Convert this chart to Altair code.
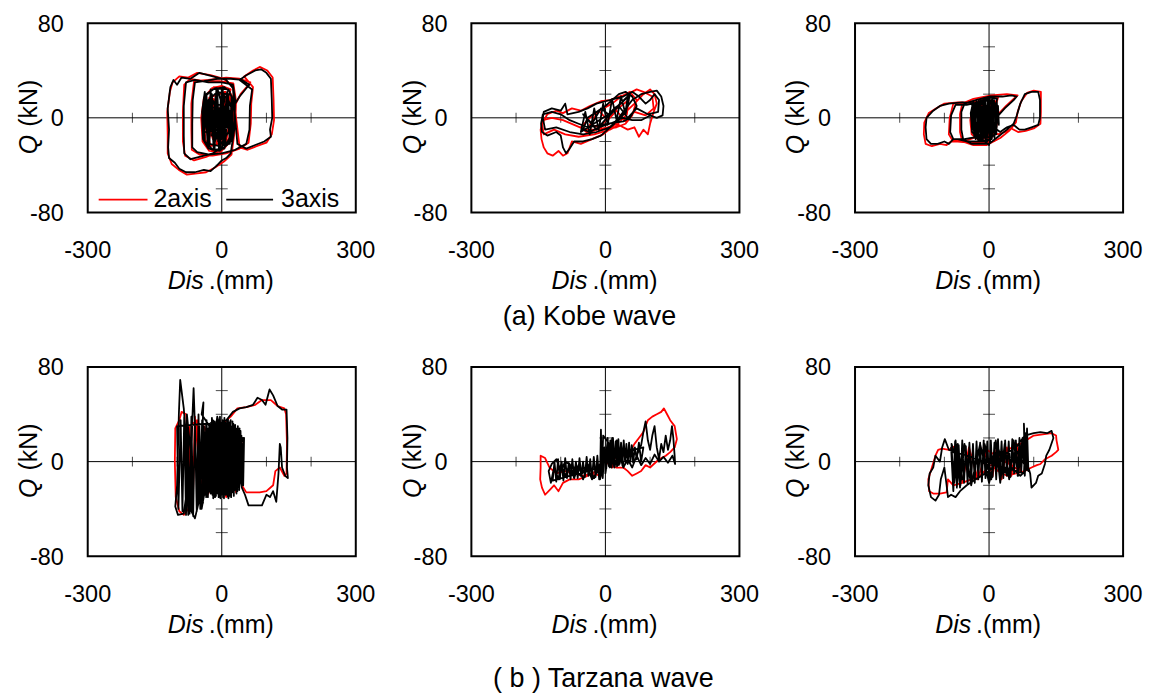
import altair as alt
import pandas as pd

# ---------------------------------------------------------------- data
SERIES = ["2axis", "3axis"]
SERIES_COLORS = ["#ff0000", "#000000"]
X_LABELS = [-300, 0, 300]
Y_LABELS = [-80, 0, 80]
X_MINOR = [-200, -100, 100, 200]
Y_MINOR = [-60, -40, -20, 20, 40, 60]
CAPTIONS = ["(a) Kobe wave", "( b ) Tarzana wave"]

# Kobe wave, panel 1  (Dis mm, Q kN)
KOBE1_2AXIS = [(0,0),(12,14),(20,24),(0,27),(-22,25),(-40,17),(-46,0),(-43,-20),(-28,-28),(-3,-29),(17,-21),(26,-3),(27,16),(13,25),(-18,26),(-37,18),(-42,0),(-39,-22),(-18,-28),(8,-25),(22,-12),(24,10),(8,22),(-28,17),(-35,-8),(-25,-24),(10,-20),(20,3),
    (42,20),(58,27),(64,30),(40,33),(10,34),(-30,32),(-62,31),(-68,12),(-68,-10),(-67,-27),(-50,-31),(-20,-32),(10,-30),(40,-26),(60,-21),(65,-5),(66,12),
    (70,26),(50,35),(70,40),(85,43),(102,40),(114,34),(116,15),(117,-2),(112,-14),(100,-21),(78,-24),(58,-27),(40,-25),
    (32,0),(27,26),(5,33),(-25,36),(-55,38),(-75,34),(-95,35),(-110,30),(-116,22),(-122,5),(-121,-15),(-121,-30),(-112,-39),(-96,-44),(-78,-48),(-55,-47),(-35,-46),(-15,-42),(5,-37),(22,-31),
    (30,-8),(32,14),(26,29),(-5,31),(-40,31),(-70,33),(-84,28),(-87,5),(-87,-20),(-82,-32),(-62,-36),(-35,-33),(-10,-29),
    (8,-14),(-18,16),(-24,-12),(10,16),(-12,-22),(14,4),(-28,12),(3,-16),(6,22),(-20,-18),(-42,10),(-36,-22),(20,18),(24,-15),(0,0)]
KOBE1_3AXIS = [(0,0),(10,12),(18,22),(5,26),(-20,24),(-38,18),(-44,0),(-42,-18),(-30,-26),(-5,-28),(15,-22),(24,-5),(25,15),(15,24),(-15,25),(-35,20),(-40,2),(-38,-20),(-20,-27),(5,-26),(20,-15),(22,8),(10,20),(-10,22),(-30,15),(-33,-5),(-28,-22),(-5,-24),(15,-12),(18,5),
    (40,18),(55,25),(62,28),(45,32),(20,33),(-10,33),(-40,31),(-60,30),(-65,15),(-66,-5),(-66,-25),(-55,-29),(-30,-31),(0,-30),(30,-27),(55,-22),(62,-10),(63,10),
    (68,24),(40,32),(55,36),(75,40),(88,41),(100,38),(110,33),(112,15),(113,0),(108,-10),(110,-16),(95,-20),(75,-23),(55,-26),(45,-24),(35,-22),
    (30,0),(25,25),(10,32),(-20,35),(-50,38),(-70,33),(-90,34),(-100,28),(-108,32),(-115,26),(-117,20),(-121,8),(-118,-10),(-120,-25),(-118,-34),(-105,-38),(-95,-43),(-80,-46),(-60,-46),(-40,-44),(-25,-45),(-10,-40),(0,-36),(10,-34),(20,-30),
    (28,-10),(30,15),(25,28),(0,30),(-30,30),(-60,32),(-80,30),(-85,10),(-85,-15),(-84,-30),(-70,-35),(-50,-33),(-20,-30),(0,-25),
    (10,-15),(-20,15),(-25,-10),(8,18),(-15,-20),(12,5),(-30,10),(0,-18),(5,20),(-22,-15),(-10,25),(15,-8),(-35,-12),(2,10),
    (-40,15),(-30,-25),(-25,24),(-18,-27),(-12,25),(-6,-28),(0,24),(6,-26),(12,22),(18,-22),(22,18),(25,-10),(20,-20),(14,20),(8,-24),(2,26),(-4,-27),(-10,22),(-16,-26),(-22,20),(-28,-24),(-34,18),(-40,-18),(-44,5),(-38,22),(-32,-20),(-26,15),(-20,-15),(-14,18),(-8,-20),(-2,16),(4,-18),(10,14),(16,-12),(10,10),(0,0)]

# Kobe wave, panel 2
KOBE2_2AXIS = [(0,0),(18,6),(35,10),(52,15),(48,3),(28,-5),(5,-8),(-20,-10),(-40,-13),(-55,-8),(-30,2),(-5,8),(15,12),(35,18),(55,22),(70,15),(60,2),(45,-5),(25,-8),
    (-10,-10),(-45,-10),(-70,-6),(-95,-2),(-120,0),(-140,-2),(-145,-10),(-143,-18),(-138,-25),(-130,-30),(-118,-32),(-105,-28),(-95,-32),(-85,-30),(-75,-20),(-55,-22),(-30,-18),(-5,-14),(15,-8),
    (40,3),(65,12),(85,20),(100,24),(110,20),(115,12),(108,5),(100,-5),(95,-14),(85,-10),(75,-16),(65,-8),(50,-10),(30,-6),(10,-10),
    (-25,-14),(-60,-16),(-90,-14),(-115,-10),(-138,-14),(-142,-5),(-130,3),(-110,6),(-95,4),(-75,8),(-55,6),(-35,10),(-10,14),(10,15),(30,18),(50,20),(70,24),(85,22),(105,18),(108,8),(90,2),
    (65,5),(45,-3),(25,6),(5,-2),(-15,6),(-35,-6),(-10,-8),(10,4),(0,0)]
KOBE2_3AXIS = [(0,0),(20,8),(35,12),(50,18),(45,5),(30,-2),(10,-5),(-15,-8),(-35,-12),(-50,-10),(-40,0),(-20,5),(0,10),(15,15),(30,20),(45,22),(60,18),(70,10),(55,0),(40,-3),(20,-4),
    (-10,-6),(-40,-8),(-60,-5),(-80,-2),(-100,3),(-120,5),(-140,3),(-144,-5),(-142,-12),(-130,-15),(-110,-12),(-100,-15),(-95,-25),(-88,-30),(-80,-26),(-70,-20),(-50,-20),(-30,-18),(-10,-15),(5,-10),(20,-5),
    (40,5),(60,15),(80,20),(100,22),(115,23),(125,18),(130,10),(128,2),(115,0),(100,2),(80,-2),(60,-2),(40,0),(25,-2),(10,-8),
    (-20,-12),(-50,-14),(-80,-12),(-110,-8),(-135,-10),(-140,0),(-138,5),(-120,8),(-100,6),(-90,12),(-85,3),(-60,5),(-40,8),(-20,12),(0,14),(20,16),(40,18),(60,22),(75,18),(90,12),(100,15),(110,20),(120,15),(118,5),(95,3),
    (70,8),(50,0),(30,10),(10,2),(-10,8),(-30,-5),(-50,3),(-20,-10),(15,5),
    (-55,-12),(-45,5),(-35,-14),(-25,8),(-15,-10),(-5,12),(5,-6),(15,16),(25,-2),(35,18),(45,3),(55,20),(0,0)]

# Kobe wave, panel 3
KOBE3_2AXIS = [(0,0),(16,12),(20,17),(-2,18),(-22,15),(-37,9),(-42,-2),(-39,-14),(-22,-19),(-2,-21),(14,-12),(20,0),(14,14),(-12,16),(-34,6),(-33,-10),(-15,-18),(8,-15),(18,2),
    (38,10),(58,17),(64,19),(40,20),(5,19),(-35,16),(-60,12),(-65,3),(-65,-12),(-60,-20),(-35,-23),(-5,-23),(25,-17),(45,-11),(60,-4),(64,5),
    (72,14),(85,21),(100,23),(116,22),(116,5),(115,-5),(100,-9),(82,-11),(65,-12),(50,-9),(35,-12),(20,-14),
    (5,-10),(-15,10),(-40,13),(-70,13),(-100,12),(-118,8),(-135,4),(-145,-4),(-146,-14),(-142,-22),(-128,-24),(-110,-22),(-95,-23),(-85,-20),(-70,-20),(-45,-21),(-20,-21),(0,-21),
    (-8,8),(-30,14),(-58,12),(-80,12),(-88,0),(-90,-14),(-82,-19),(-50,-19),(-20,-15),(8,6),(-18,-12),(10,14),(-28,-8),(0,0)]
KOBE3_3AXIS = [(0,0),(15,10),(18,16),(0,17),(-20,14),(-35,10),(-40,0),(-38,-12),(-25,-18),(-5,-20),(12,-14),(18,-2),(15,12),(-10,15),(-32,8),(-36,-8),(-20,-17),(5,-16),(16,0),
    (35,8),(55,15),(62,18),(50,19),(30,18),(0,18),(-30,15),(-55,12),(-62,5),(-62,-10),(-58,-18),(-40,-22),(-20,-22),(0,-22),(20,-16),(40,-10),(55,-5),(62,2),
    (70,12),(80,20),(95,22),(110,22),(114,15),(114,0),(110,-6),(95,-8),(80,-10),(68,-10),(55,-6),(40,-8),(25,-12),
    (10,-8),(-10,8),(-30,12),(-60,13),(-90,12),(-110,10),(-125,6),(-140,0),(-142,-8),(-140,-18),(-130,-22),(-115,-22),(-100,-20),(-90,-22),(-80,-18),(-70,-18),(-50,-20),(-30,-20),(-10,-20),(0,-23),(5,-15),
    (-5,10),(-25,13),(-50,11),(-75,11),(-85,2),(-87,-12),(-80,-18),(-55,-18),(-25,-16),(-5,-10),(10,8),(-15,-14),(12,12),(-30,-10),(5,15),(-20,-18),(15,-5),(-35,5),
    (-38,12),(-33,-16),(-28,15),(-24,-19),(-19,16),(-14,-20),(-9,17),(-4,-20),(1,16),(6,-18),(11,15),(16,-14),(20,10),(22,-6),(17,14),(12,-17),(7,17),(2,-20),(-3,16),(-8,-19),(-13,15),(-18,-18),(-23,14),(-28,-15),(-33,12),(-38,-10),(-41,4),(-35,14),(-30,-18),(-20,13),(-10,-16),(0,14),(10,-12),(0,0)]

# Tarzana wave, panel 1
TARZ1_2AXIS = [(0,0),(12,22),(-12,28),(-28,-22),(25,18),(32,-26),(-5,35),(-32,-28),(38,25),(10,-30),(-28,22),(44,-12),(-8,-25),(22,28),(-36,8),(46,18),(2,-24),(-18,32),(28,-18),
    (-40,30),(-45,-30),(-60,38),(-65,-38),(-80,40),(-90,42),(-95,35),(-104,28),(-105,0),(-103,-30),(-95,-42),(-85,-45),(-75,-40),(-70,-25),(-72,30),(-55,35),(-50,-30),
    (-20,30),(5,33),(20,38),(35,45),(55,46),(75,48),(90,52),(110,52),(125,47),(140,45),(144,40),(146,15),(145,-10),(140,-12),(130,-5),(120,-8),(115,-20),(100,-25),(85,-26),(70,-26),(55,-26),(45,-20),(42,0),(45,15),(40,-15),
    (20,20),(-15,-20),(15,25),(-25,0),(0,0)]
TARZ1_3AXIS = [(0,0),(10,25),(20,35),(5,-20),(-15,30),(-25,-25),(30,20),(35,-25),(-10,38),(-35,-30),(40,28),(15,-31),(-30,25),(45,-15),(-5,-28),(25,30),(-38,10),(48,20),(0,-25),(-20,35),(30,-20),(-40,-15),(10,32),(42,-10),
    (-45,40),(-41,50),(-45,5),(-55,-35),(-60,30),(-63,62),(-66,35),(-70,-40),(-75,-45),(-80,20),(-85,45),(-93,69),(-96,40),(-100,-20),(-104,-38),(-98,-45),(-85,-44),(-80,-30),(-78,40),(-70,10),(-68,-42),(-60,-48),(-52,-35),(-50,30),(-45,-40),(-38,-25),(-35,32),
    (-100,30),(-97,-40),(-92,35),(-88,-42),(-84,38),(-80,-45),(-76,30),(-72,-44),(-68,38),(-64,-46),(-60,35),(-56,-42),(-52,40),(-48,-40),(-44,35),(-42,-35),
    (-40,30),(-37,-28),(-34,35),(-31,-30),(-28,32),(-25,-27),(-22,37),(-19,-31),(-16,34),(-13,-29),(-10,36),(-7,-30),(-4,38),(-1,-28),(2,35),(5,-31),(8,33),(11,-27),(14,36),(17,-29),(20,30),(23,-26),(26,32),(29,-24),(32,28),(35,-22),(38,25),(41,-18),(44,22),(47,-10),(48,15),(45,-20),(42,26),(39,-24),(36,30),(33,-27),(30,31),(27,-29),(24,34),(21,-30),(18,32),(15,-31),(12,35),(9,-28),(6,37),(3,-30),(0,33),(-3,-31),(-6,35),(-9,-27),(-12,32),(-15,-30),(-18,30),(-21,-28),(-24,33),(-27,-25),(-30,28),(-33,-24),(-36,25),(-39,-20),
    (-10,30),(10,35),(25,42),(40,45),(55,46),(70,48),(80,54),(90,52),(98,48),(107,61),(115,56),(125,47),(135,44),(145,44),(147,20),(146,-5),(148,-14),(142,-12),(135,-5),(132,12),(130,15),(127,-10),(122,-34),(115,-25),(108,-30),(100,-28),(90,-37),(75,-37),(60,-37),(52,-28),(45,-22),(40,-10),(45,0),(50,20),(48,-20),
    (30,10),(-10,-25),(20,25),(-30,5),(0,0)]

# Tarzana wave, panel 2
TARZ2_2AXIS = [(0,0),(8,15),(15,-5),(25,12),(35,0),(-5,10),(-10,-12),
    (-30,-10),(-50,-12),(-70,-10),(-90,-8),(-110,-10),(-125,-5),(-135,3),(-145,5),(-145,-5),(-146,-15),(-142,-22),(-135,-28),(-125,-24),(-115,-20),(-105,-25),(-95,-18),(-80,-15),(-60,-15),(-40,-12),(-20,-8),
    (0,5),(20,8),(40,5),(55,8),(65,15),(75,20),(85,25),(95,35),(105,38),(115,40),(125,42),(131,45),(138,40),(145,35),(155,30),(160,19),(155,12),(145,8),(135,5),(120,2),(100,-5),(90,-3),(80,-8),(70,-10),(60,-12),(50,-8),(40,-5),(25,-5),(10,-3),(0,0)]
TARZ2_3AXIS = [(0,0),(5,18),(10,-5),(15,20),(20,0),(25,18),(30,-3),(35,15),(40,-2),(-5,22),(-8,-10),(-10,27),(-12,-15),(0,10),
    (-20,-10),(-30,-15),(-40,-5),(-50,-15),(-60,-3),(-70,-14),(-80,-2),(-90,-12),(-100,-3),(-105,-15),(-115,-5),(-122,-18),(-127,-8),(-120,-2),(-110,2),(-100,-8),(-90,0),(-70,-5),(-55,-12),(-40,-2),(-25,-14),(-15,-5),
    (-118,-16),(-114,0),(-110,-17),(-106,2),(-102,-15),(-98,0),(-94,-16),(-90,3),(-86,-14),(-82,-1),(-78,-15),(-74,2),(-70,-13),(-66,0),(-62,-14),(-58,3),(-54,-12),(-50,0),(-46,-13),(-42,4),(-38,-12),(-34,2),(-30,-14),(-26,4),(-22,-13),(-18,5),(-14,-15),(-10,6),(-6,-14),(-2,12),
    (2,-6),(5,20),(8,-4),(11,18),(14,-5),(17,20),(20,-3),(23,17),(26,-4),(29,19),(32,-2),(35,16),(38,-3),(41,18),(44,0),(47,15),(50,-2),(53,16),(56,0),(59,14),(62,-1),(66,12),(70,2),(75,16),(80,0),(85,12),
    (10,5),(30,10),(50,3),(60,12),(70,5),(80,14),(85,25),(90,34),(95,18),(100,10),(105,22),(110,30),(115,12),(120,2),(125,15),(130,8),(135,22),(140,10),(145,18),(149,30),(152,20),(155,5),(156,-2),(150,5),(140,-1),(130,4),(120,0),(110,6),(100,-2),(90,3),(80,-3),(70,5),(60,-5),(50,2),(40,-5),(30,8),(20,-5),(10,15),(0,-10),(0,0)]

# Tarzana wave, panel 3
TARZ3_2AXIS = [(0,0),(-12,12),(8,-12),(18,15),(28,-15),(40,12),(50,-12),(62,15),(70,-8),(-5,10),(-25,-15),(-45,12),(-60,-18),(-72,14),
    (-90,10),(-105,11),(-114,10),(-120,5),(-128,-5),(-136,-15),(-134,-25),(-125,-27),(-110,-27),(-95,-26),(-92,-15),(-80,-20),(-60,-18),(-40,-15),(-20,-12),
    (10,0),(40,10),(70,15),(100,22),(120,23),(140,24),(150,22),(151,18),(155,10),(150,8),(140,5),(125,2),(115,-2),(107,-3),(95,-5),(80,-8),(60,-10),(40,-12),(20,-8),(0,0)]
TARZ3_3AXIS = [(0,0),(-10,15),(5,-15),(15,18),(25,-18),(35,15),(45,-15),(55,18),(65,-12),(75,20),(80,-10),(78,32),(82,-5),(85,28),(88,-8),
    (60,10),(40,-12),(20,12),(0,-18),(-20,15),(-40,-20),(-55,15),(-65,-22),(-75,18),(-80,-25),(-85,12),(-78,-18),(-70,15),(-60,-15),
    (-84,15),(-80,-20),(-76,17),(-72,-22),(-68,14),(-64,-20),(-60,18),(-56,-18),(-52,13),(-48,-19),(-44,16),(-40,-16),(-36,15),(-32,-18),(-28,17),(-24,-15),(-20,16),(-16,-17),(-12,18),(-8,-14),(-4,17),(0,-16),(4,18),(8,-13),(12,16),(16,-15),(20,19),(24,-12),(28,17),(32,-14),(36,18),(40,-11),(44,17),(48,-13),(52,19),(56,-10),(60,18),(64,-12),(68,20),(72,-9),(76,18),(80,-12),(84,22),(86,-6),(82,24),(78,-10),
    (-90,10),(-99,19),(-105,12),(-110,0),(-120,5),(-125,-5),(-133,-10),(-136,-20),(-130,-30),(-120,-33),(-112,-28),(-108,-15),(-100,-5),(-95,-20),(-92,-30),(-85,-28),(-75,-30),(-65,-25),(-50,-20),(-30,-15),
    (0,-8),(30,5),(60,12),(80,22),(100,24),(115,25),(130,24),(140,26),(144,20),(135,10),(128,5),(125,-2),(118,-10),(110,-12),(105,-18),(95,-22),(92,-10),(88,-5),(70,-12),(50,-5),(30,-10),(10,5),(-10,-10),(0,0)]

PANELS = [
    (KOBE1_2AXIS, KOBE1_3AXIS), (KOBE2_2AXIS, KOBE2_3AXIS), (KOBE3_2AXIS, KOBE3_3AXIS),
    (TARZ1_2AXIS, TARZ1_3AXIS), (TARZ2_2AXIS, TARZ2_3AXIS), (TARZ3_2AXIS, TARZ3_3AXIS),
]

# ---------------------------------------------------------------- style
W, H = 269, 190
FONT = "Liberation Sans"
TICK_FS = 23.5
TITLE_FS = 25

xscale = alt.Scale(domain=[-300, 300], nice=False, zero=False)
yscale = alt.Scale(domain=[-80, 80], nice=False, zero=False)
cscale = alt.Scale(domain=SERIES, range=SERIES_COLORS)


def series_frame(pts, name):
    return pd.DataFrame({
        "dis": [p[0] for p in pts],
        "q": [p[1] for p in pts],
        "step": list(range(len(pts))),
        "series": name,
    })


def data_layer(pts, name):
    return alt.Chart(series_frame(pts, name)).mark_line(
        strokeWidth=1.8, strokeJoin="round").encode(
        x=alt.X("dis:Q", scale=xscale, axis=None),
        y=alt.Y("q:Q", scale=yscale, axis=None),
        order="step:Q",
        color=alt.Color("series:N", scale=cscale, legend=None),
    )


def text_layer(text, x, y, size, align="center", baseline="alphabetic",
               italic=False, angle=0):
    return alt.Chart(pd.DataFrame({"t": [text]})).mark_text(
        align=align, baseline=baseline, fontSize=size, font=FONT,
        fontStyle="italic" if italic else "normal", angle=angle,
        color="black").encode(text="t:N", x=alt.value(x), y=alt.value(y))


def tick_labels():
    xdf = pd.DataFrame({"v": X_LABELS, "t": [str(v) for v in X_LABELS]})
    ydf = pd.DataFrame({"v": Y_LABELS, "t": [str(v) for v in Y_LABELS]})
    xl = alt.Chart(xdf).mark_text(fontSize=TICK_FS, font=FONT, align="center",
                                  baseline="alphabetic", color="black").encode(
        x=alt.X("v:Q", scale=xscale, axis=None), y=alt.value(H + 46), text="t:N")
    yl = alt.Chart(ydf).mark_text(fontSize=TICK_FS, font=FONT, align="right",
                                  baseline="alphabetic", dy=8.5, color="black").encode(
        y=alt.Y("v:Q", scale=yscale, axis=None), x=alt.value(-24), text="t:N")
    return [xl, yl]


def crosshair():
    v = alt.Chart(pd.DataFrame({"dis": [0]})).mark_rule(color="black", strokeWidth=1).encode(
        x=alt.X("dis:Q", scale=xscale, axis=None))
    h = alt.Chart(pd.DataFrame({"q": [0]})).mark_rule(color="black", strokeWidth=1).encode(
        y=alt.Y("q:Q", scale=yscale, axis=None))
    xt = alt.Chart(pd.DataFrame({"dis": X_MINOR, "q": [0] * len(X_MINOR)})).mark_tick(
        orient="vertical", size=10, thickness=1, color="black").encode(
        x=alt.X("dis:Q", scale=xscale, axis=None), y=alt.Y("q:Q", scale=yscale, axis=None))
    yt = alt.Chart(pd.DataFrame({"q": Y_MINOR, "dis": [0] * len(Y_MINOR)})).mark_tick(
        orient="horizontal", size=12, thickness=1, color="black").encode(
        x=alt.X("dis:Q", scale=xscale, axis=None), y=alt.Y("q:Q", scale=yscale, axis=None))
    return [v, h, xt, yt]


def legend_layers():
    out = []
    for name, x0, x1, tx in (("2axis", 11, 60, 66), ("3axis", 139, 186, 194)):
        out.append(alt.Chart(pd.DataFrame({"series": [name]})).mark_rule(strokeWidth=1.8).encode(
            x=alt.value(x0), x2=alt.value(x1), y=alt.value(H - 13),
            color=alt.Color("series:N", scale=cscale, legend=None)))
        out.append(text_layer(name, tx, H - 6, 25, align="left"))
    return out


def panel(idx, pts2, pts3):
    layers = crosshair() + [data_layer(pts2, SERIES[0]), data_layer(pts3, SERIES[1])]
    layers += tick_labels()
    layers += [
        text_layer("Dis", W / 2 - 18, H + 77, TITLE_FS, align="right", italic=True),
        text_layer(".(mm)", W / 2 - 13, H + 77, TITLE_FS, align="left"),
        text_layer("Q", -59, H / 2 + 17, TITLE_FS, align="right", baseline="middle",
                   italic=True, angle=270),
        text_layer("(kN)", -59, H / 2 + 9, TITLE_FS, align="left", baseline="middle",
                   angle=270),
    ]
    if idx == 0:
        layers += legend_layers()
    if idx == 1:
        layers.append(text_layer(CAPTIONS[0], W / 2 - 16, H + 113, 27))
    if idx == 4:
        layers.append(text_layer(CAPTIONS[1], W / 2 - 2, H + 131, 27))
    return alt.layer(*layers).properties(width=W, height=H)


panels = [panel(i, a, b) for i, (a, b) in enumerate(PANELS)]

chart = alt.concat(
    *panels, columns=3,
    spacing=alt.RowColnumber(row=155, column=116),
    bounds="flush",
).properties(
    padding={"left": 8, "top": 2, "right": 5, "bottom": 0},
    background="white",
).configure(
    font=FONT
).configure_view(
    stroke="black", strokeWidth=2
)

chart.save("out.html", embed_options={"renderer": "svg", "actions": False})
